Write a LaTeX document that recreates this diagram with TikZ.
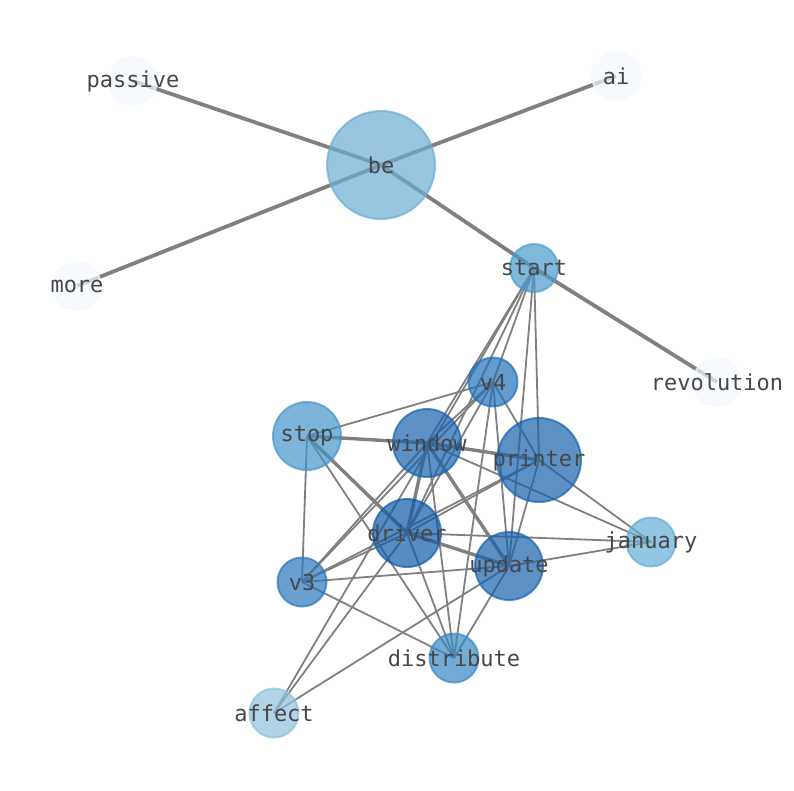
\documentclass[tikz,border=0pt]{standalone}
\usepackage{fontspec}
\newfontfamily\lblfont{DejaVu Sans Mono}
\definecolor{cBe}{RGB}{108,172,211}
\definecolor{cStart}{RGB}{74,154,205}
\definecolor{cStop}{RGB}{69,148,202}
\definecolor{cV4}{RGB}{34,112,184}
\definecolor{cDark}{RGB}{24,99,174}
\definecolor{cDriver}{RGB}{16,91,168}
\definecolor{cV3}{RGB}{41,119,186}
\definecolor{cDist}{RGB}{55,136,195}
\definecolor{cJan}{RGB}{101,174,214}
\definecolor{cAff}{RGB}{142,194,219}
\definecolor{cPale}{RGB}{244,249,255}
\definecolor{edgegray}{RGB}{128,128,128}
\begin{document}
\begin{tikzpicture}[x=1pt,y=-1pt,
  wnode/.style={circle,inner sep=0pt,minimum size=#1,line width=2pt,fill opacity=0.7,draw opacity=0.7},
  lab/.style={font=\lblfont\fontsize{22}{22}\selectfont,text=black!72,inner sep=0pt},
  heavy/.style={draw=edgegray,line width=3.8pt},
  mid/.style={draw=edgegray,line width=3.4pt},
  lite/.style={draw=edgegray,line width=1.8pt}]
\useasboundingbox (0,0) rectangle (794,790);
% positions
\coordinate (be) at (381,165);
\coordinate (passive) at (133,81);
\coordinate (ai) at (616,76);
\coordinate (more) at (77,286);
\coordinate (start) at (534,268);
\coordinate (revolution) at (717,382);
\coordinate (v4) at (493,382);
\coordinate (stop) at (307,436);
\coordinate (window) at (427,443);
\coordinate (printer) at (539,460);
\coordinate (driver) at (407,533);
\coordinate (update) at (509,566);
\coordinate (january) at (651,542);
\coordinate (v3) at (302,582);
\coordinate (distribute) at (454,658);
\coordinate (affect) at (274,713);
% edges
\foreach \a/\b in {be/passive,be/ai,be/more,be/start,start/revolution}
  \draw[heavy] (\a) -- (\b);
\foreach \a/\b in {stop/window,window/printer,stop/driver,window/driver,window/update,driver/update}
  \draw[mid] (\a) -- (\b);
\foreach \a/\b in {stop/v4,stop/v3,stop/distribute,
  start/window,start/affect,start/driver,start/v4,start/printer,start/update,
  v4/window,v4/driver,v4/v3,v4/printer,v4/update,v4/distribute,
  window/v3,window/january,window/distribute,
  printer/driver,printer/v3,printer/january,printer/update,
  driver/v3,driver/january,driver/distribute,driver/affect,
  update/v3,update/january,update/distribute,update/affect,
  v3/distribute}
  \draw[lite] (\a) -- (\b);
% nodes
\node[wnode=108pt,fill=cBe,draw=cBe] (beN) at (be) {};
\node[wnode=48pt,fill=cPale,draw=cPale] (passiveN) at (passive) {};
\node[wnode=48pt,fill=cPale,draw=cPale] (aiN) at (ai) {};
\node[wnode=48pt,fill=cPale,draw=cPale] (moreN) at (more) {};
\node[wnode=48pt,fill=cStart,draw=cStart] (startN) at (start) {};
\node[wnode=48pt,fill=cPale,draw=cPale] (revolutionN) at (revolution) {};
\node[wnode=49pt,fill=cV4,draw=cV4] (v4N) at (v4) {};
\node[wnode=68pt,fill=cStop,draw=cStop] (stopN) at (stop) {};
\node[wnode=68pt,fill=cDark,draw=cDark] (windowN) at (window) {};
\node[wnode=84pt,fill=cDark,draw=cDark] (printerN) at (printer) {};
\node[wnode=68pt,fill=cDriver,draw=cDriver] (driverN) at (driver) {};
\node[wnode=68pt,fill=cDark,draw=cDark] (updateN) at (update) {};
\node[wnode=49pt,fill=cJan,draw=cJan] (januaryN) at (january) {};
\node[wnode=49pt,fill=cV3,draw=cV3] (v3N) at (v3) {};
\node[wnode=49pt,fill=cDist,draw=cDist] (distributeN) at (distribute) {};
\node[wnode=49pt,fill=cAff,draw=cAff] (affectN) at (affect) {};
% labels
\foreach \n in {be,passive,ai,more,start,revolution,v4,stop,window,printer,driver,update,january,v3,distribute,affect}
  \node[lab] (\n L) at (\n) {\n};
\end{tikzpicture}
\end{document}
